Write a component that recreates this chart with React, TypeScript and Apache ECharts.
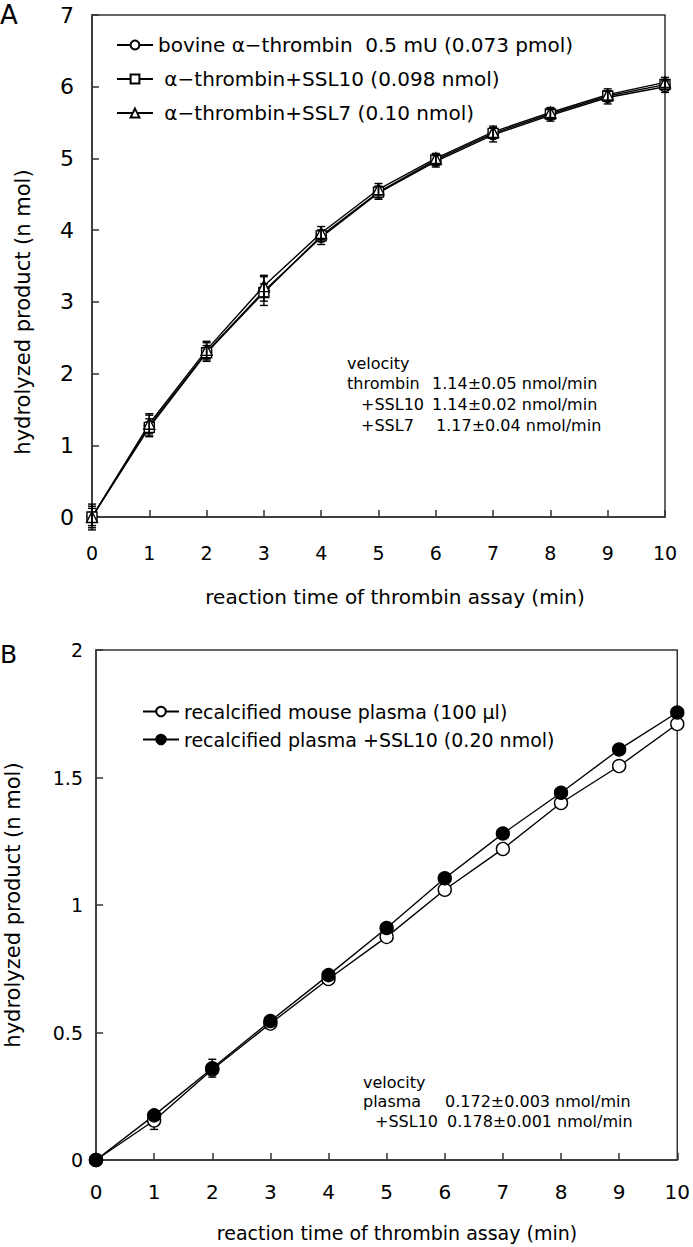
import React, { useEffect, useRef } from "react";
import * as echarts from "echarts";

const FONT = "'DejaVu Sans', 'Noto Sans', sans-serif";

const timeMin = [0, 1, 2, 3, 4, 5, 6, 7, 8, 9, 10];

// Panel A
const legendA = [
  "bovine α−thrombin  0.5 mU (0.073 pmol)",
  " α−thrombin+SSL10 (0.098 nmol)",
  " α−thrombin+SSL7 (0.10 nmol)",
];
const thrombin = [0, 1.27, 2.3, 3.15, 3.9, 4.52, 4.96, 5.33, 5.6, 5.85, 6.0];
const thrombinErr = [0.18, 0.15, 0.13, 0.2, 0.1, 0.09, 0.08, 0.1, 0.08, 0.09, 0.08];
const thrombinSSL10 = [0, 1.25, 2.29, 3.13, 3.92, 4.53, 4.98, 5.35, 5.62, 5.87, 6.03];
const thrombinSSL10Err = [0.12, 0.12, 0.1, 0.12, 0.08, 0.08, 0.07, 0.07, 0.07, 0.07, 0.07];
const thrombinSSL7 = [0, 1.3, 2.33, 3.22, 3.96, 4.57, 5.0, 5.37, 5.64, 5.89, 6.06];
const thrombinSSL7Err = [0.15, 0.14, 0.12, 0.15, 0.09, 0.08, 0.07, 0.08, 0.07, 0.08, 0.07];
const velocityLabelsA = ["velocity", "thrombin", "+SSL10", "+SSL7"];
const velocityValuesA = ["", "1.14±0.05 nmol/min", "1.14±0.02 nmol/min", "1.17±0.04 nmol/min"];

// Panel B
const legendB = [
  "recalcified mouse plasma (100 μl)",
  "recalcified plasma +SSL10 (0.20 nmol)",
];
const plasma = [0, 0.155, 0.355, 0.535, 0.71, 0.875, 1.06, 1.22, 1.4, 1.545, 1.71];
const plasmaErr = [0, 0.035, 0.01, 0.01, 0.01, 0.01, 0.01, 0.01, 0.01, 0.01, 0.01];
const plasmaSSL10 = [0, 0.175, 0.36, 0.545, 0.725, 0.91, 1.105, 1.28, 1.44, 1.61, 1.755];
const plasmaSSL10Err = [0, 0.01, 0.035, 0.01, 0.01, 0.01, 0.01, 0.01, 0.01, 0.01, 0.01];
const velocityLabelsB = ["velocity", "plasma", "+SSL10"];
const velocityValuesB = ["", "0.172±0.003 nmol/min", "0.178±0.001 nmol/min"];

const xTitle = "reaction time of thrombin assay (min)";
const yTitle = "hydrolyzed product (n mol)";

function pts(v: number[]) {
  return timeMin.map((t, i) => [t, v[i]]);
}
function errPts(v: number[], e: number[]) {
  return timeMin.map((t, i) => [t, v[i], e[i]]);
}

function errSeries(grid: number, v: number[], e: number[], cap: number, z: number) {
  return {
    type: "custom",
    xAxisIndex: grid,
    yAxisIndex: grid,
    clip: false,
    z,
    silent: true,
    data: errPts(v, e),
    renderItem: (params: any, api: any) => {
      const x = api.value(0);
      const y = api.value(1);
      const er = api.value(2);
      if (!er) return { type: "group", children: [] };
      const top = api.coord([x, y + er]);
      const bot = api.coord([x, y - er]);
      const st = { stroke: "#000", lineWidth: 1.4 };
      return {
        type: "group",
        children: [
          { type: "line", shape: { x1: top[0], y1: top[1], x2: bot[0], y2: bot[1] }, style: st },
          { type: "line", shape: { x1: top[0] - cap, y1: top[1], x2: top[0] + cap, y2: top[1] }, style: st },
          { type: "line", shape: { x1: bot[0] - cap, y1: bot[1], x2: bot[0] + cap, y2: bot[1] }, style: st },
        ],
      };
    },
  };
}

function lineSeries(grid: number, name: string, v: number[], symbol: string, size: number, fill: string) {
  return {
    type: "line",
    name,
    xAxisIndex: grid,
    yAxisIndex: grid,
    data: pts(v),
    symbol,
    symbolSize: size,
    showSymbol: true,
    z: 3,
    lineStyle: { color: "#000", width: 1.4 },
    itemStyle: { color: fill, borderColor: "#000", borderWidth: 1.4 },
  };
}

function xAxisCfg(grid: number, margin: number, fontSize: number) {
  return {
    type: "value",
    gridIndex: grid,
    min: 0,
    max: 10,
    interval: 1,
    splitLine: { show: false },
    axisLine: { lineStyle: { color: "#333", width: 1.5 } },
    axisTick: { inside: true, length: 7, lineStyle: { color: "#333", width: 1.5 } },
    axisLabel: { fontSize, color: "#000", margin, fontFamily: FONT },
  };
}
function yAxisCfg(grid: number, max: number, interval: number, margin: number, fontSize: number) {
  return {
    type: "value",
    gridIndex: grid,
    min: 0,
    max,
    interval,
    splitLine: { show: false },
    axisLine: { lineStyle: { color: "#333", width: 1.5 } },
    axisTick: { inside: true, length: 7, lineStyle: { color: "#333", width: 1.5 } },
    axisLabel: { fontSize, color: "#000", margin, fontFamily: FONT },
  };
}

function textEl(x: number, y: number, text: string, fontSize: number, extra: any = {}) {
  const { style, ...rest } = extra;
  return {
    type: "text",
    x,
    y,
    silent: true,
    ...rest,
    style: {
      text,
      fontSize,
      fontFamily: FONT,
      fill: "#000",
      verticalAlign: "middle",
      ...(style || {}),
    },
  };
}

export default function App() {
  const ref = useRef<HTMLDivElement>(null);
  useEffect(() => {
    document.body.style.margin = "0";
    if (!ref.current) return;
    const chart = echarts.init(ref.current, null, { renderer: "svg" });

    const graphics: any[] = [];
    graphics.push(textEl(0, 15, "A", 26));
    graphics.push(textEl(0, 654, "B", 25));
    graphics.push(textEl(395, 597, xTitle, 20, { style: { align: "center" } }));
    graphics.push(textEl(397, 1233, xTitle, 19, { style: { align: "center" } }));
    graphics.push(textEl(23, 312, yTitle, 21, { rotation: Math.PI / 2, style: { align: "center" } }));
    graphics.push(textEl(13, 905, yTitle, 21, { rotation: Math.PI / 2, style: { align: "center" } }));
    velocityLabelsA.forEach((lab, i) => {
      const y = 363 + i * 20.7;
      const indent = i >= 2 ? 14 : 0;
      graphics.push(textEl(347 + indent, y, lab, 16));
      if (velocityValuesA[i]) graphics.push(textEl(432 + (i === 3 ? 4 : 0), y, velocityValuesA[i], 16));
    });
    velocityLabelsB.forEach((lab, i) => {
      const y = 1082 + i * 19.5;
      const indent = i >= 2 ? 12 : 0;
      graphics.push(textEl(363 + indent, y, lab, 16));
      if (velocityValuesB[i]) graphics.push(textEl(445 + (i === 2 ? 2 : 0), y, velocityValuesB[i], 16));
    });

    const option: any = {
      animation: false,
      backgroundColor: "#fff",
      textStyle: { fontFamily: FONT },
      grid: [
        { left: 92, right: 28, top: 15, height: 502, show: true, borderColor: "#333", borderWidth: 1.5 },
        { left: 96, right: 13, top: 650, height: 510, show: true, borderColor: "#333", borderWidth: 1.5 },
      ],
      xAxis: [xAxisCfg(0, 26, 19), xAxisCfg(1, 22, 20)],
      yAxis: [yAxisCfg(0, 7, 1, 18, 22), yAxisCfg(1, 2, 0.5, 13, 19)],
      legend: [
        {
          data: legendA,
          orient: "vertical",
          left: 111,
          top: 30,
          itemWidth: 36,
          itemHeight: 11,
          itemGap: 14,
          textStyle: { fontSize: 20, color: "#000", fontFamily: FONT },
          selectedMode: false,
        },
        {
          data: legendB,
          orient: "vertical",
          left: 137,
          top: 697,
          itemWidth: 36,
          itemHeight: 12,
          itemGap: 9,
          textStyle: { fontSize: 19, color: "#000", fontFamily: FONT },
          selectedMode: false,
        },
      ],
      graphic: graphics,
      series: [
        lineSeries(0, legendA[0], thrombin, "circle", 10, "#fff"),
        lineSeries(0, legendA[1], thrombinSSL10, "rect", 10, "#fff"),
        lineSeries(0, legendA[2], thrombinSSL7, "triangle", 11, "#fff"),
        errSeries(0, thrombin, thrombinErr, 4, 4),
        errSeries(0, thrombinSSL10, thrombinSSL10Err, 4, 4),
        errSeries(0, thrombinSSL7, thrombinSSL7Err, 4, 4),
        errSeries(1, plasma, plasmaErr, 4, 1),
        errSeries(1, plasmaSSL10, plasmaSSL10Err, 4, 1),
        lineSeries(1, legendB[0], plasma, "circle", 13, "#fff"),
        lineSeries(1, legendB[1], plasmaSSL10, "circle", 13, "#000"),
      ],
    };
    chart.setOption(option);
    return () => chart.dispose();
  }, []);
  return <div ref={ref} style={{ width: 693, height: 1247 }} />;
}
